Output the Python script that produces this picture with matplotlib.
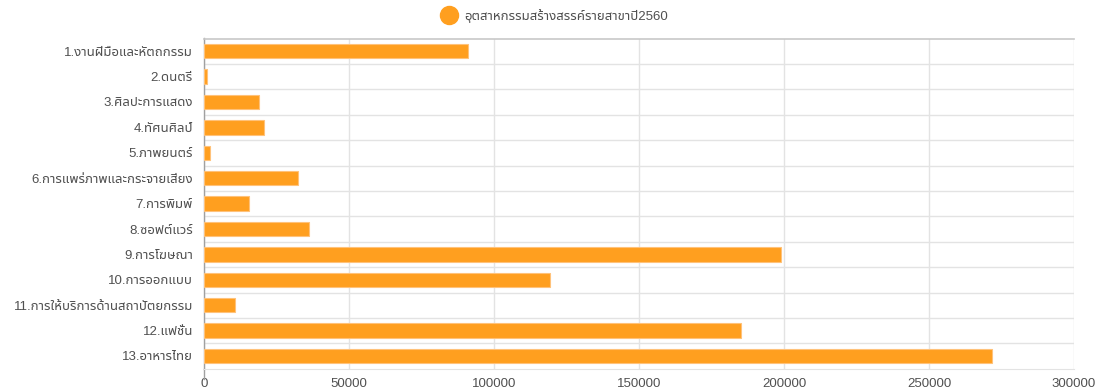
import matplotlib
matplotlib.use("Agg")
import matplotlib.pyplot as plt
from matplotlib import font_manager
from matplotlib.lines import Line2D

# creative industry value by branch, 2560 (B.E.)
categories = [
    "1.งานฝีมือและหัตถกรรม",
    "2.ดนตรี",
    "3.ศิลปะการแสดง",
    "4.ทัศนศิลป์",
    "5.ภาพยนตร์",
    "6.การแพร่ภาพและกระจายเสียง",
    "7.การพิมพ์",
    "8.ซอฟต์แวร์",
    "9.การโฆษณา",
    "10.การออกแบบ",
    "11.การให้บริการด้านสถาปัตยกรรม",
    "12.แฟชั่น",
    "13.อาหารไทย",
]
values = [91000, 1100, 19100, 20800, 2100, 32500, 15500, 36300,
          199000, 119300, 10700, 185000, 271700]
series_name = "อุตสาหกรรมสร้างสรรค์รายสาขาปี2560"
x_ticks = [0, 50000, 100000, 150000, 200000, 250000, 300000]


def find_thai_font():
    try:
        from fontTools.ttLib import TTFont
    except Exception:
        return None
    preferred = ["Tahoma", "Leelawadee UI", "Leelawadee", "Noto Sans Thai UI",
                 "Noto Sans Thai", "Sarabun", "Loma", "Garuda", "Waree",
                 "Umpush", "Kinnari", "Norasi"]
    found = []
    for f in font_manager.fontManager.ttflist:
        try:
            tt = TTFont(f.fname, fontNumber=0, lazy=True)
            cmap = tt.getBestCmap() or {}
            if 0x0E01 in cmap and 0x0E44 in cmap:
                found.append(f.name)
        except Exception:
            pass
    for name in preferred:
        if name in found:
            return name
    return found[0] if found else None


thai = find_thai_font()
fams = ["Liberation Sans"]
if thai:
    fams.append(thai)
fams.append("DejaVu Sans")
plt.rcParams["font.family"] = fams

bar_color = "#ff9f1f"
grid_color = "#e3e3e3"
text_color = "#505050"

fig = plt.figure(figsize=(10.96, 3.92), dpi=100)
ax = fig.add_axes([204 / 1096, 1 - 368.7 / 392, 870 / 1096, 330.2 / 392])

ypos = list(range(len(categories)))
ax.barh(ypos, values, height=0.57, color=bar_color,
        edgecolor="#ffc27a", linewidth=0.8, zorder=3)

ax.set_ylim(len(categories) - 0.5, -0.5)
ax.set_xlim(0, 300000)
ax.set_xticks(x_ticks)
ax.set_xticklabels([str(t) for t in x_ticks])
ax.set_yticks(ypos)
ax.set_yticklabels(categories)
ax.set_yticks([i + 0.5 for i in ypos[:-1]], minor=True)

ax.grid(axis="x", which="major", color=grid_color, linewidth=1, zorder=0)
ax.grid(axis="y", which="minor", color=grid_color, linewidth=1, zorder=0)
ax.tick_params(axis="both", which="both", length=0, colors=text_color)
ax.tick_params(axis="x", labelsize=9.5, pad=7)
ax.tick_params(axis="y", labelsize=9.5, pad=8)

ax.spines["right"].set_visible(False)
ax.spines["top"].set_color("#c8c8c8")
ax.spines["top"].set_linewidth(1.2)
ax.spines["bottom"].set_color(grid_color)
ax.spines["left"].set_color("#a0a0a0")
ax.spines["left"].set_linewidth(1)
ax.axvline(0, ymin=-0.03, ymax=0, color="#a0a0a0", linewidth=1, clip_on=False)

handle = Line2D([], [], marker="o", linestyle="none", markersize=13,
                markerfacecolor=bar_color, markeredgecolor=bar_color)
fig.legend([handle], [series_name], loc="center",
           bbox_to_anchor=(552 / 1096, 1 - 16 / 392), frameon=False,
           fontsize=9.5, handletextpad=0.1, labelcolor=text_color)

fig.savefig("out.png", dpi=100)
